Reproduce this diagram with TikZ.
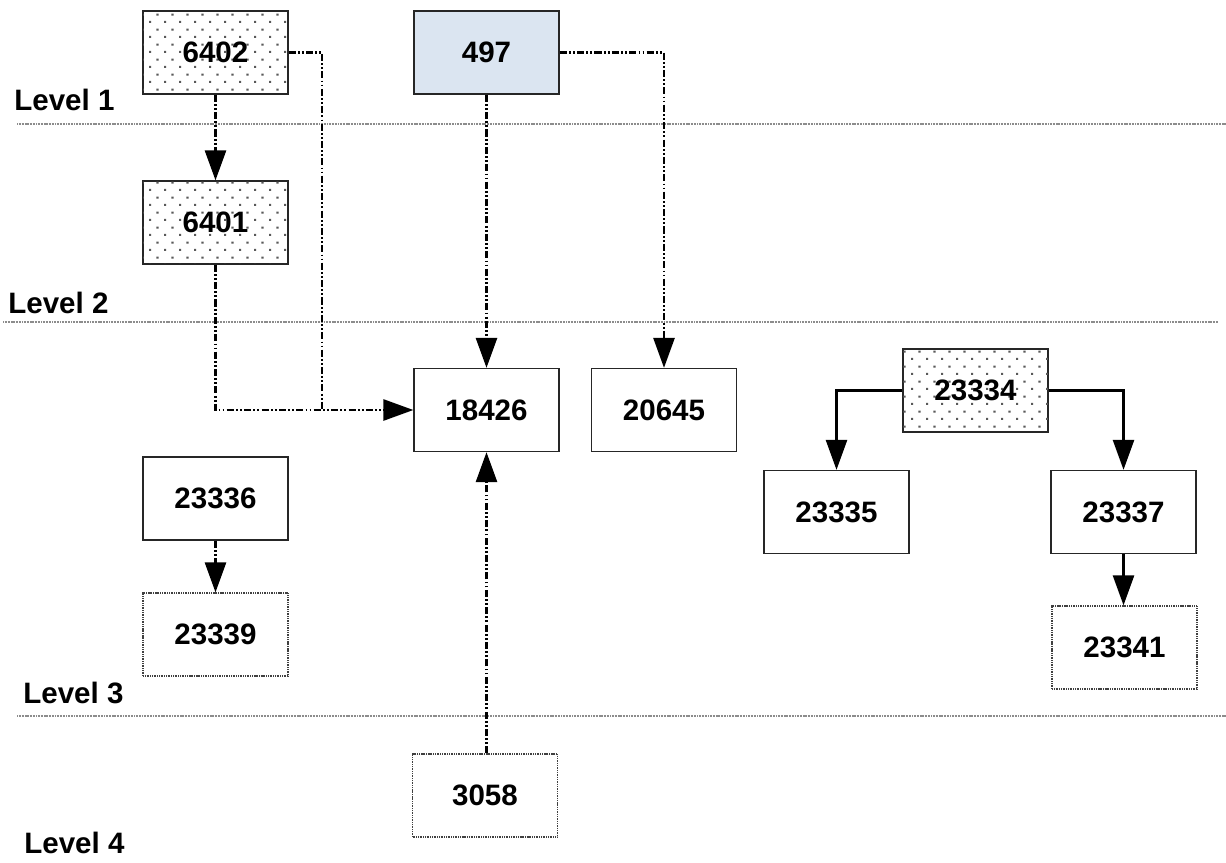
\documentclass[tikz,border=0pt]{standalone}
\usepackage{fontspec}
\setmainfont{Liberation Sans}
\usetikzlibrary{arrows.meta,patterns}
\pgfdeclarepatternformonly{mydots}{\pgfqpoint{0pt}{0pt}}{\pgfqpoint{8.5pt}{8.7pt}}{\pgfqpoint{8.5pt}{8.7pt}}{%
  \pgfpathrectangle{\pgfqpoint{0pt}{0pt}}{\pgfqpoint{1.2pt}{1.2pt}}%
  \pgfpathrectangle{\pgfqpoint{4.25pt}{4.35pt}}{\pgfqpoint{1.2pt}{1.2pt}}%
  \pgfusepath{fill}}
\definecolor{boxblue}{HTML}{DBE5F1}
\begin{document}
\begin{tikzpicture}[x=0.02cm,y=-0.02cm,
  every node/.style={font=\fontsize{16.8pt}{18pt}\selectfont\bfseries},
  box/.style={draw=black!85,line width=0.8pt,minimum width=2.9cm,minimum height=1.66cm,inner sep=0pt,fill=white},
  dotbox/.style={box,postaction={pattern=mydots,pattern color=black!65}},
  thinbox/.style={box,draw=black!75,dash pattern=on 0.6pt off 0.4pt},
  bluebox/.style={box,fill=boxblue},
  levelline/.style={draw=black!45,line width=1pt,dash pattern=on 0.6pt off 0.3pt},
  lvl/.style={anchor=base west,inner sep=0pt},
  dd/.style={line width=1.3pt,dash pattern=on 4pt off 1.3pt on 1pt off 1.3pt on 1pt off 1.3pt},
  solid arrow/.style={line width=1.2pt},
  tip/.style={-{Triangle[length=17pt,width=12pt]}}]
\useasboundingbox (0,0) rectangle (1226,862);
% level lines
\draw[levelline] (17,124) -- (1226,124);
\draw[levelline] (3,322) -- (1218,322);
\draw[levelline] (17,716) -- (1226,716);
\node[lvl] (l1) at (14,110) {Level 1};
\node[lvl] (l2) at (8,313) {Level 2};
\node[lvl] (l3) at (23,703) {Level 3};
\node[lvl] (l4) at (24,853) {Level 4};
% boxes
\node[dotbox] (n6402) at (215.5,52.5) {6402};
\node[bluebox] (n497) at (486.5,52.5) {497};
\node[dotbox] (n6401) at (215.5,222.5) {6401};
\node[box] (n18426) at (486.5,410) {18426};
\node[box] (n20645) at (664,410) {20645};
\node[dotbox] (n23334) at (975.5,390.5) {23334};
\node[box] (n23335) at (836.5,512) {23335};
\node[box] (n23337) at (1123.5,512) {23337};
\node[thinbox] (n23341) at (1124.5,647.5) {23341};
\node[box] (n23336) at (215.5,498.5) {23336};
\node[thinbox] (n23339) at (215.5,634.5) {23339};
\node[thinbox] (n3058) at (485,795.5) {3058};
% connectors
\coordinate (j) at (322,410);
\draw[dd,tip] (n6402.south) -- (n6401.north);
\draw[dd] (n6402.east) -| (j);
\draw[dd,tip] (n6401.south) |- (n18426.west);
\draw[dd,tip] (n497.south) -- (n18426.north);
\draw[dd,tip] (n497.east) -| (n20645.north);
\draw[dd,tip] (n3058.north -| n18426.south) -- (n18426.south);
\draw[dd,tip] (n23336.south) -- (n23339.north);
\draw[solid arrow,tip] (n23334.west) -| (n23335.north);
\draw[solid arrow,tip] (n23334.east) -| (n23337.north);
\draw[solid arrow,tip] (n23337.south) -- (n23337.south |- n23341.north);
\end{tikzpicture}
\end{document}
